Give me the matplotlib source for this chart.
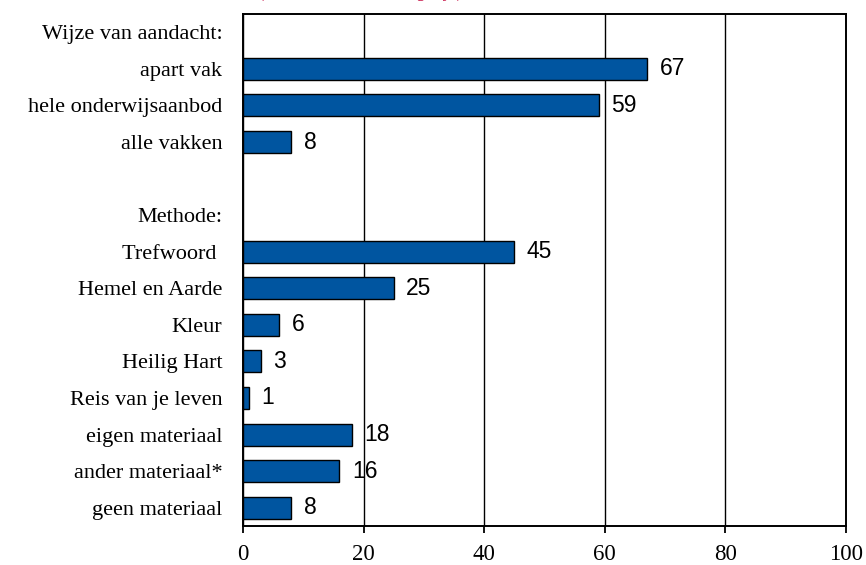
import matplotlib
matplotlib.use("Agg")
import matplotlib.pyplot as plt

categories = ["Wijze van aandacht:", "apart vak", "hele onderwijsaanbod", "alle vakken", "",
              "Methode:", "Trefwoord ", "Hemel en Aarde", "Kleur", "Heilig Hart",
              "Reis van je leven", "eigen materiaal", "ander materiaal*", "geen materiaal"]
values = [None, 67, 59, 8, None, None, 45, 25, 6, 3, 1, 18, 16, 8]
xticks = [0, 20, 40, 60, 80, 100]
title = "Aandacht en methode (meer antwoorden mogelijk)"

fig = plt.figure(figsize=(8.66, 5.65), dpi=100)
ax = fig.add_axes([243/866, 1-526/565, (846-243)/866, (526-14)/565])

ypos = list(range(len(categories)))
bar_y = [y for y, v in zip(ypos, values) if v is not None]
bar_v = [v for v in values if v is not None]
ax.barh(bar_y, bar_v, height=0.6, color="#0055A0", edgecolor="black", linewidth=1.0, zorder=3)
for y, v in zip(bar_y, bar_v):
    ax.annotate(str(v), xy=(v, y), xytext=(9, 0), textcoords="offset points",
                va="center", ha="left", fontsize=16.5, family="Liberation Sans", zorder=4)

ax.set_xlim(0, 100)
ax.set_ylim(len(categories) - 0.5, -0.5)
ax.set_xticks(xticks)
ax.set_xticklabels([str(t) for t in xticks], family="Liberation Serif", fontsize=16.5)
ax.set_yticks(ypos)
ax.set_yticklabels(categories, family="Liberation Serif", fontsize=16)
ax.tick_params(axis="y", length=0, pad=15)
ax.tick_params(axis="x", direction="out", length=5, width=1.3, pad=8)
ax.grid(axis="x", color="black", linewidth=1.0, zorder=0)
for s in ax.spines.values():
    s.set_linewidth(1.4)
    s.set_color("black")

fig.text(100/866, 1 + 3/565, title, color="#C8184A", fontsize=13, style="italic",
         family="Liberation Serif", va="baseline", ha="left")

fig.savefig("out.png", dpi=100)
